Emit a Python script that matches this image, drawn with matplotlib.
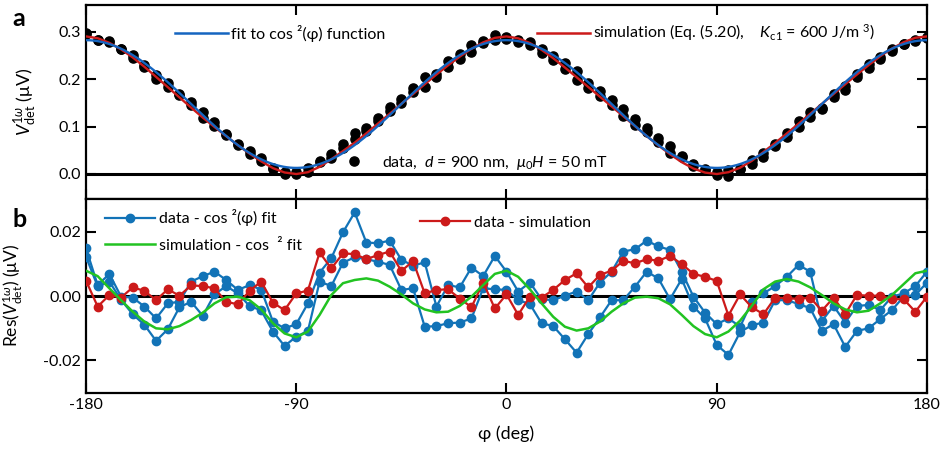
import numpy as np
import matplotlib
matplotlib.use("Agg")
import matplotlib.pyplot as plt
from matplotlib.lines import Line2D
from matplotlib import font_manager

# ---------------- data ----------------
phi = np.arange(-180, 181, 5)  # measurement angles (deg)

# cos^2 fit parameters
fit_offset = 0.0127
fit_amp = 0.270

# data - cos^2 fit, two sweeps (uV)
res_sweep1 = [0.0149, 0.0034, 0.0069, -0.0002, -0.0005, -0.0033, -0.0070, -0.0023, -0.0018, 0.0045,
              0.0062, 0.0076, 0.0050, 0.0019, 0.0034, 0.0020, -0.0080, -0.0101, -0.0088, -0.0023,
              0.0073, 0.0118, 0.0199, 0.0261, 0.0167, 0.0165, 0.0173, 0.0113, 0.0095, 0.0105,
              -0.0033, 0.0034, 0.0027, 0.0089, 0.0062, 0.0125, 0.0076, 0.0014, 0.0042, -0.0010,
              -0.0013, 0.0001, 0.0014, -0.0013, 0.0042, 0.0076, 0.0139, 0.0146, 0.0173, 0.0155,
              0.0144, 0.0076, -0.0002, -0.0052, -0.0088, -0.0070, -0.0096, -0.0018, 0.0008, 0.0031,
              0.0060, 0.0097, 0.0076, -0.0078, -0.0031, -0.0083, -0.0031, -0.0028, -0.0044, -0.0002,
              0.0008, 0.0031, 0.0076]
res_sweep2 = [0.0123, 0.0030, 0.0045, -0.0012, -0.0057, -0.0090, -0.0140, -0.0104, -0.0035, -0.0018,
              -0.0062, 0.0005, 0.0031, 0.0008, -0.0031, -0.0045, -0.0111, -0.0156, -0.0127, -0.0109,
              0.0045, 0.0031, 0.0104, 0.0121, 0.0115, 0.0107, 0.0097, 0.0019, 0.0024, -0.0096,
              -0.0094, -0.0085, -0.0083, -0.0070, 0.0024, 0.0021, 0.0019, -0.0013, -0.0025, -0.0085,
              -0.0094, -0.0135, -0.0177, -0.0119, -0.0067, -0.0013, -0.0013, 0.0029, 0.0076, 0.0055,
              -0.0010, 0.0053, -0.0033, -0.0070, -0.0153, -0.0184, -0.0113, -0.0091, -0.0083, -0.0013,
              -0.0013, -0.0025, -0.0038, -0.0109, -0.0088, -0.0159, -0.0109, -0.0101, -0.0072, -0.0044,
              -0.0002, 0.0003, 0.0042]
# data - simulation (uV)
res_sim = [0.0048, -0.0033, 0.0003, -0.0005, 0.0027, 0.0016, -0.0013, 0.0021, 0.0001, 0.0033,
           0.0031, 0.0024, -0.0018, -0.0026, 0.0016, 0.0045, -0.0021, -0.0044, 0.0008, 0.0017,
           0.0136, 0.0086, 0.0133, 0.0131, 0.0115, 0.0128, 0.0139, 0.0078, 0.0109, 0.0008,
           0.0019, 0.0021, -0.0008, -0.0035, 0.0042, -0.0039, 0.0005, -0.0059, -0.0002, -0.0005,
           0.0019, 0.0050, 0.0071, 0.0027, 0.0066, 0.0079, 0.0110, 0.0102, 0.0115, 0.0110,
           0.0125, 0.0100, 0.0069, 0.0060, 0.0047, -0.0061, 0.0005, -0.0035, -0.0057, -0.0005,
           -0.0007, -0.0009, -0.0005, -0.0046, -0.0005, -0.0056, 0.0003, 0.0001, 0.0001, -0.0010,
           -0.0010, -0.0049, -0.0002]
# simulation - cos^2 fit (uV)
sim_minus_fit = [0.0079, 0.0062, 0.0024, -0.0013, -0.0049, -0.0080, -0.0101, -0.0104, -0.0094, -0.0075,
                 -0.0052, -0.0023, -0.0004, -0.0002, -0.0013, -0.0042, -0.0085, -0.0117, -0.0129, -0.0111,
                 -0.0059, 0.0003, 0.0040, 0.0050, 0.0055, 0.0048, 0.0029, 0.0005, -0.0023, -0.0042,
                 -0.0051, -0.0049, -0.0031, -0.0002, 0.0034, 0.0069, 0.0079, 0.0060, 0.0021, -0.0023,
                 -0.0065, -0.0096, -0.0108, -0.0101, -0.0080, -0.0049, -0.0023, -0.0005, -0.0002, -0.0007,
                 -0.0026, -0.0059, -0.0094, -0.0119, -0.0129, -0.0111, -0.0077, -0.0031, 0.0021, 0.0045,
                 0.0053, 0.0045, 0.0027, 0.0003, -0.0023, -0.0042, -0.0051, -0.0046, -0.0023, 0.0003,
                 0.0037, 0.0071, 0.0079]

xticks = [-180, -90, 0, 90, 180]
yticks_a = [0.0, 0.1, 0.2, 0.3]
yticklabels_a = ["0.0", "0.1", "0.2", "0.3"]
yticks_b = [-0.02, 0.0, 0.02]
yticklabels_b = ["-0.02", "0.00", "0.02"]

# ---------------- derived curves ----------------
phi_fine = np.linspace(-180, 180, 721)
fit_fine = fit_offset + fit_amp * np.cos(np.radians(phi_fine)) ** 2
fit_at = fit_offset + fit_amp * np.cos(np.radians(phi)) ** 2
sim_curve = fit_at + np.array(sim_minus_fit)
data1 = fit_at + np.array(res_sweep1)
data2 = fit_at + np.array(res_sweep2)

# ---------------- style ----------------
names = {f.name for f in font_manager.fontManager.ttflist}
main_font = "Lato" if "Lato" in names else "DejaVu Sans"
plt.rcParams["font.family"] = [main_font, "DejaVu Sans"]
plt.rcParams["mathtext.fontset"] = "custom"
plt.rcParams["mathtext.rm"] = main_font
plt.rcParams["mathtext.it"] = main_font + ":italic"
plt.rcParams["mathtext.bf"] = main_font + ":bold"

BLUE_FIT = "#1565c0"
BLUE = "#1273b7"
RED = "#cc1a1a"
GREEN = "#22c322"
FS = 11.5

fig = plt.figure(figsize=(9.45, 4.61), dpi=100)
axa = fig.add_axes([86 / 945, 1 - 199 / 461, 841 / 945, 194 / 461])
axb = fig.add_axes([86 / 945, 1 - 393 / 461, 841 / 945, 194 / 461])

for ax in (axa, axb):
    ax.set_xlim(-180, 180)
    ax.set_xticks(xticks)
    ax.tick_params(direction="in", length=7, width=1.5, top=True, right=True,
                   labelsize=FS)
    for s in ax.spines.values():
        s.set_linewidth(1.6)
    ax.axhline(0, color="black", lw=2.2, zorder=1)

# panel a
axa.set_ylim(-0.053, 0.357)
axa.set_yticks(yticks_a)
axa.set_yticklabels(yticklabels_a)
axa.tick_params(labelbottom=False)
axa.plot(phi, data1, "o", color="black", ms=6.6, zorder=2)
axa.plot(phi, data2, "o", color="black", ms=6.6, zorder=2)
axa.plot(phi, sim_curve, color=RED, lw=1.7, zorder=3)
axa.plot(phi_fine, fit_fine, color=BLUE_FIT, lw=1.7, zorder=4)
axa.set_ylabel(r"$V^{1\omega}_{\rm det}$ (μV)", fontsize=13)
axa.yaxis.set_label_coords(-0.056, 0.5)

leg1 = axa.legend(handles=[Line2D([], [], color=BLUE_FIT, lw=1.8)],
                  labels=["fit to cos ²(φ) function"], loc="center left",
                  bbox_to_anchor=((175 - 86) / 841, (199 - 33) / 194), frameon=False,
                  fontsize=FS, handlelength=3.3, handletextpad=0.2, borderpad=0, borderaxespad=0)
axa.add_artist(leg1)
leg2 = axa.legend(handles=[Line2D([], [], color=RED, lw=1.8)],
                  labels=[r"simulation (Eq. (5.20),    $K_{\rm c1}$ = 600 J/m $^{3}$)"],
                  loc="center left",
                  bbox_to_anchor=((537 - 86) / 841, (199 - 33) / 194), frameon=False,
                  fontsize=FS, handlelength=3.3, handletextpad=0.2, borderpad=0, borderaxespad=0)
axa.add_artist(leg2)
axa.legend(handles=[Line2D([], [], ls="none", marker="o", color="black", ms=6.6)],
           labels=[r"data,  $d$ = 900 nm,  $\mu_0H$ = 50 mT"], loc="center left",
           bbox_to_anchor=((342 - 86) / 841, (199 - 163) / 194), frameon=False,
           fontsize=FS, handlelength=1.5, handletextpad=1.0, borderpad=0, borderaxespad=0)

# panel b
axb.set_ylim(-0.0303, 0.0303)
axb.set_yticks(yticks_b)
axb.set_yticklabels(yticklabels_b)
axb.set_xticklabels([str(t) for t in xticks])
axb.plot(phi, res_sweep1, "-o", color=BLUE, lw=1.6, ms=6, zorder=3)
axb.plot(phi, res_sweep2, "-o", color=BLUE, lw=1.6, ms=6, zorder=3)
axb.plot(phi, res_sim, "-o", color=RED, lw=1.6, ms=6, zorder=4)
axb.plot(phi, sim_minus_fit, color=GREEN, lw=1.8, zorder=5)
axb.set_ylabel(r"Res($V^{1\omega}_{\rm det}$) (μV)", fontsize=12.5)
axb.yaxis.set_label_coords(-0.072, 0.5)
axb.set_xlabel("φ (deg)", fontsize=13)
axb.xaxis.labelpad = 10

leg3 = axb.legend(handles=[Line2D([], [], color=BLUE, lw=1.6, marker="o", ms=6),
                           Line2D([], [], color=GREEN, lw=1.8)],
                  labels=["data - cos ²(φ) fit", "simulation - cos  ² fit"],
                  loc="center left", bbox_to_anchor=((105 - 86) / 841, (393 - 231) / 194),
                  frameon=False, fontsize=FS, handlelength=3.1, handletextpad=0.25,
                  labelspacing=0.75, borderpad=0, borderaxespad=0)
axb.add_artist(leg3)
axb.legend(handles=[Line2D([], [], color=RED, lw=1.6, marker="o", ms=6)],
           labels=["data - simulation"], loc="center left",
           bbox_to_anchor=((420 - 86) / 841, (393 - 223) / 194), frameon=False,
           fontsize=FS, handlelength=3.1, handletextpad=0.3, borderpad=0, borderaxespad=0)

fig.text(19 / 945, 1 - 19 / 461, "a", fontsize=18, fontweight="bold", ha="center", va="center")
fig.text(20 / 945, 1 - 219 / 461, "b", fontsize=18, fontweight="bold", ha="center", va="center")

fig.savefig("out.png", dpi=100)
